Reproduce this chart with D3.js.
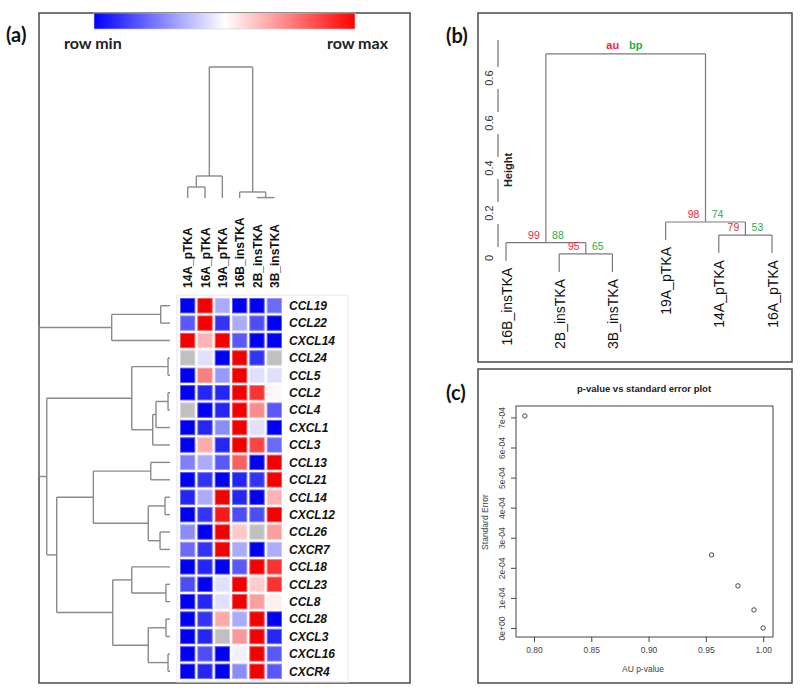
<!DOCTYPE html>
<html><head><meta charset="utf-8">
<script src="https://cdn.jsdelivr.net/npm/d3@7"></script>
<style>body{margin:0;background:#fff} svg{display:block}</style>
</head><body><svg id="c" width="800" height="694"></svg>
<script>
// ---------- DATA ----------
const genes = ["CCL19","CCL22","CXCL14","CCL24","CCL5","CCL2","CCL4","CXCL1","CCL3","CCL13","CCL21","CCL14","CXCL12","CCL26","CXCR7","CCL18","CCL23","CCL8","CCL28","CXCL3","CXCL16","CXCR4"];
const samples = ["14A_pTKA","16A_pTKA","19A_pTKA","16B_insTKA","2B_insTKA","3B_insTKA"];
// row-scaled expression (-1 = row min, 1 = row max, null = missing / grey)
const heatValues = [
  [-1, 1, -0.33, -1, -1, -0.58],
  [-0.65, 1, -0.8, -0.33, -0.7, -1],
  [1, 0.3, 1, -0.65, -1, -1],
  [null, -0.12, -1, 1, -0.8, null],
  [-1, 0.5, -0.4, 1, -0.12, -0.12],
  [-1, -0.85, -0.85, 1, 0.8, 0.03],
  [null, -1, -0.85, 1, 0.45, -0.65],
  [-1, -0.85, -0.45, 1, -0.12, -1],
  [-1, 0.33, -0.85, 1, 0.73, -0.58],
  [-0.5, -0.33, -0.65, 0.62, -1, 1],
  [-1, -0.8, -1, -0.85, -0.8, 1],
  [-0.85, -0.33, 1, -0.85, -1, 0.3],
  [-1, -0.8, 0.9, -0.7, -0.7, 1],
  [-0.45, -1, 1, 0.22, null, 0.38],
  [-0.58, -0.8, 1, -0.33, -1, -0.32],
  [-1, -0.85, -1, -0.65, 1, 0.8],
  [-0.7, -1, -0.12, 1, 0.2, 0.8],
  [-1, -0.85, -0.12, 1, 0.38, 0.06],
  [-1, -0.8, 0.33, -0.33, 1, -1],
  [-1, -0.85, null, 0.4, 1, -0.85],
  [-1, -0.7, -1, -0.06, 1, -0.65],
  [-1, -0.85, -1, -0.45, 1, -0.65]
];
// row dendrogram merges: [left, right, height]; "#k" = k-th merge
const rowMerges = [
  ["CCL24","CCL5",0.015], ["CCL2","CCL4",0.015], ["CXCL16","CXCR4",0.015],
  ["CCL23","CCL8",0.031], ["CCL28","CXCL3",0.031], ["CCL14","CXCL12",0.038],
  ["CCL19","CCL22",0.071], ["CCL26","CXCR7",0.076], ["#2","CXCL1",0.107],
  ["#9","CCL3",0.132], ["CCL13","CCL21",0.147], ["#6","#8",0.166],
  ["#5","#3",0.166], ["#1","#10",0.292], ["CCL18","#4",0.292],
  ["#15","#13",0.437], ["#7","CXCL14",0.445], ["#11","#12",0.585],
  ["#18","#16",0.865], ["#14","#19",0.941], ["#17","#20",1.0]
];
const colMerges = [
  ["2B_insTKA","3B_insTKA",0.003], ["16B_insTKA","#1",0.046],
  ["14A_pTKA","16A_pTKA",0.084], ["#3","19A_pTKA",0.168], ["#4","#2",1.0]
];
// panel (b) pvclust
const pvLeaves = ["16B_insTKA","2B_insTKA","3B_insTKA","19A_pTKA","14A_pTKA","16A_pTKA"];
const pvMerges = [
  ["2B_insTKA","3B_insTKA",0.018], ["16B_insTKA","#1",0.068],
  ["14A_pTKA","16A_pTKA",0.102], ["19A_pTKA","#3",0.16], ["#2","#4",0.907]
];
const pvAU = [95, 99, 79, 98, "au"];
const pvBP = [65, 88, 53, 74, "bp"];
const pvTicks = [0, 0.2, 0.4, 0.6, 0.8];
const pvTickLabels = ["0","0.2","0.4","0.6","0.6"];
const pvHang = 0.08;
// panel (c)
const auPvalue = [0.792, 0.955, 0.978, 0.992, 1.0];
const stdError = [7.05e-4, 2.43e-4, 1.40e-4, 0.60e-4, 0];
const cXTicks = [0.80, 0.85, 0.90, 0.95, 1.00];
const cYTicks = [0, 1e-4, 2e-4, 3e-4, 4e-4, 5e-4, 6e-4, 7e-4];

// ---------- DRAW ----------
const svg = d3.select("#c");
const FONT = "'Liberation Sans', Arial, sans-serif";
const LBL = "Lato, 'Open Sans', sans-serif";
const treeCol = "#8a8a8a";

// panel frames
const frame = (x,y,w,h) => svg.append("rect").attr("x",x).attr("y",y).attr("width",w).attr("height",h)
  .attr("fill","none").attr("stroke","#4a4a4a").attr("stroke-width",1.5);
frame(39,13,371,670); frame(478,13,314,349); frame(478,369,314,314);
const plabel = (t,x,y) => svg.append("text").attr("x",x).attr("y",y).text(t)
  .attr("font-family",LBL).attr("font-weight","bold").attr("font-size",20).attr("fill","#111");
plabel("(a)",6,42); plabel("(b)",446,43); plabel("(c)",446,400);

// colour bar
const defs = svg.append("defs");
const lg = defs.append("linearGradient").attr("id","gbar");
[["0%","#0000ff"],["50%","#ffffff"],["100%","#ff0000"]].forEach(([o,c])=>lg.append("stop").attr("offset",o).attr("stop-color",c));
svg.append("rect").attr("x",94).attr("y",13).attr("width",261).attr("height",16).attr("fill","url(#gbar)")
  .attr("stroke","#ccc").attr("stroke-width",0.6);
svg.append("text").attr("x",64).attr("y",49).text("row min").attr("font-family",LBL).attr("font-weight","bold").attr("font-size",16).attr("fill","#222");
svg.append("text").attr("x",388).attr("y",49).attr("text-anchor","end").text("row max").attr("font-family",LBL).attr("font-weight","bold").attr("font-size",16).attr("fill","#222");

// heatmap
const xH = d3.scaleBand().domain(samples).range([179,283]);
const yH = d3.scaleBand().domain(genes).range([297,680]);
const color = d3.scaleLinear().domain([-1,0,1]).range(["#0000f2","#ffffff","#f50000"]);
svg.append("rect").attr("x",177).attr("y",295).attr("width",171).attr("height",387).attr("fill","none").attr("stroke","#e6e6ee").attr("stroke-width",1);
const cells = [];
heatValues.forEach((row,i)=>row.forEach((v,j)=>cells.push({g:genes[i],s:samples[j],v})));
svg.append("g").selectAll("rect").data(cells).join("rect")
  .attr("x",d=>xH(d.s)+1.5).attr("y",d=>yH(d.g)+1.5)
  .attr("width",xH.bandwidth()-3).attr("height",yH.bandwidth()-3)
  .attr("fill",d=>d.v===null?"#c0c0c0":color(d.v))
  .attr("stroke",d=>d3.interpolateRgb(d.v===null?"#c0c0c0":color(d.v),"#ffffff")(0.35))
  .attr("stroke-width",1);
svg.append("g").selectAll("text").data(genes).join("text")
  .attr("x",289).attr("y",d=>yH(d)+yH.bandwidth()/2).attr("dy","0.36em").text(d=>d)
  .attr("font-family",FONT).attr("font-weight","bold").attr("font-style","italic").attr("font-size",12).attr("fill","#111");
svg.append("g").selectAll("text").data(samples).join("text")
  .attr("transform",d=>`translate(${xH(d)+xH.bandwidth()/2+4.5},288) rotate(-90)`).text(d=>d)
  .attr("font-family",FONT).attr("font-weight","bold").attr("font-size",12).attr("fill","#111");

function buildTree(merges, leafPos){
  const nodes=[];
  const get = k => k.startsWith("#") ? nodes[+k.slice(1)-1] : {pos:leafPos(k), h:0, leaf:k};
  merges.forEach(([a,b,h],i)=>{const A=get(a),B=get(b);nodes.push({pos:(A.pos+B.pos)/2,h,kids:[A,B],i});});
  return nodes;
}
// row dendrogram
const hRow = d3.scaleLinear().domain([0,1]).range([170,39]);
const rowNodes = buildTree(rowMerges, g=>yH(g)+yH.bandwidth()/2);
const gR = svg.append("g").attr("stroke",treeCol).attr("stroke-width",1.4).attr("fill","none");
rowNodes.forEach(n=>{
  const x=hRow(n.h);
  gR.append("line").attr("x1",x).attr("x2",x).attr("y1",n.kids[0].pos).attr("y2",n.kids[1].pos);
  n.kids.forEach(k=>gR.append("line").attr("x1",x).attr("x2",hRow(k.h)).attr("y1",k.pos).attr("y2",k.pos));
});
// column dendrogram
const hCol = d3.scaleLinear().domain([0,1]).range([198,67]);
const colNodes = buildTree(colMerges, s=>xH(s)+xH.bandwidth()/2);
const gC = svg.append("g").attr("stroke",treeCol).attr("stroke-width",1.4).attr("fill","none");
colNodes.forEach(n=>{
  const y=hCol(n.h);
  gC.append("line").attr("y1",y).attr("y2",y).attr("x1",n.kids[0].pos).attr("x2",n.kids[1].pos);
  n.kids.forEach(k=>gC.append("line").attr("y1",y).attr("y2",hCol(k.h)).attr("x1",k.pos).attr("x2",k.pos));
});

// ---------- panel (b) ----------
const xB = d3.scalePoint().domain(pvLeaves).range([506,772]);
const yB = d3.scaleLinear().domain([0,0.8]).range([258,78]);
const pvNodes = buildTree(pvMerges, l=>xB(l));
const gB = svg.append("g").attr("stroke","#7a7a7a").attr("stroke-width",1.2).attr("fill","none");
pvNodes.forEach((n,i)=>{
  const y=yB(n.h);
  gB.append("line").attr("y1",y).attr("y2",y).attr("x1",n.kids[0].pos).attr("x2",n.kids[1].pos);
  n.kids.forEach(k=>{
    const yk = k.leaf ? yB(n.h-pvHang) : yB(k.h);
    gB.append("line").attr("y1",y).attr("y2",yk).attr("x1",k.pos).attr("x2",k.pos);
    if(k.leaf){
      svg.append("text").attr("transform",`translate(${k.pos+5.5},${yk+7}) rotate(-90)`).attr("text-anchor","end")
        .text(k.leaf).attr("font-family",FONT).attr("font-size",14).attr("fill","#111");
    }
  });
  const isRoot = i===pvNodes.length-1;
  const ty = isRoot ? y-5 : y-4;
  svg.append("text").attr("x",n.pos-(isRoot?13:12)).attr("y",ty).attr("text-anchor","middle").text(pvAU[i])
    .attr("font-family","'Liberation Sans Narrow', "+FONT).attr("font-size",isRoot?11:10.5).attr("font-weight",isRoot?"bold":"normal").attr("fill","#f0263c");
  svg.append("text").attr("x",n.pos+(isRoot?10:12)).attr("y",ty).attr("text-anchor","middle").text(pvBP[i])
    .attr("font-family","'Liberation Sans Narrow', "+FONT).attr("font-size",isRoot?11:10.5).attr("font-weight",isRoot?"bold":"normal").attr("fill","#1fae4a");
});
// broken axis
const gap=11, segs=[];
let prev=40;
pvTicks.slice().reverse().forEach(t=>{const y=yB(t); if(y-gap>prev) segs.push([prev,y-gap]); prev=y+gap;});
if(prev<243) segs.push([prev,243]);
svg.append("g").selectAll("line").data(segs).join("line").attr("x1",498).attr("x2",498)
  .attr("y1",d=>d[0]).attr("y2",d=>d[1]).attr("stroke","#555").attr("stroke-width",1);
svg.append("g").selectAll("text").data(pvTicks).join("text")
  .attr("transform",d=>`translate(493,${yB(d)}) rotate(-90)`).attr("text-anchor","middle")
  .text((d,i)=>pvTickLabels[i]).attr("font-family",FONT).attr("font-size",11).attr("fill","#333");
svg.append("text").attr("transform","translate(512,170) rotate(-90)").attr("text-anchor","middle").text("Height")
  .attr("font-family",FONT).attr("font-weight","bold").attr("font-size",11).attr("fill","#222");

// ---------- panel (c) ----------
const xC = d3.scaleLinear().domain([0.7843,1.0086]).range([516,773]);
const yC = d3.scaleLinear().domain([-0.3e-4,7.38e-4]).range([637,406]);
svg.append("rect").attr("x",516).attr("y",406).attr("width",257).attr("height",231).attr("fill","none").attr("stroke","#444").attr("stroke-width",1);
const ax = svg.append("g").attr("transform","translate(0,637)")
  .call(d3.axisBottom(xC).tickValues(cXTicks).tickFormat(d3.format(".2f")).tickSize(5).tickSizeOuter(0));
ax.select(".domain").remove();
ax.selectAll("line").attr("stroke","#444");
ax.selectAll("text").attr("font-family",FONT).attr("font-size",8.5).attr("fill","#444").attr("dy","0.95em");
const ay = svg.append("g").attr("transform","translate(516,0)")
  .call(d3.axisLeft(yC).tickValues(cYTicks).tickFormat(d=>d===0?"0e+00":`${Math.round(d*1e4)}e-04`).tickSize(5).tickSizeOuter(0));
ay.select(".domain").remove();
ay.selectAll("line").attr("stroke","#444");
ay.selectAll("text").attr("font-family",FONT).attr("font-size",8.5).attr("fill","#444")
  .attr("text-anchor","middle").attr("transform","rotate(-90)").attr("x",0).attr("dy",0)
  .each(function(){ d3.select(this).attr("y",-11); });
// reposition rotated y labels: in rotated frame, move left by y
ay.selectAll(".tick text").attr("transform","translate(-11,0) rotate(-90)").attr("y",0);
svg.append("g").selectAll("circle").data(auPvalue).join("circle")
  .attr("cx",d=>xC(d)).attr("cy",(d,i)=>yC(stdError[i])).attr("r",2.2)
  .attr("fill","none").attr("stroke","#333").attr("stroke-width",0.9);
svg.append("text").attr("x",644).attr("y",392).attr("text-anchor","middle").text("p-value vs standard error plot")
  .attr("font-family",FONT).attr("font-weight","bold").attr("font-size",9.5).attr("fill","#222");
svg.append("text").attr("x",643).attr("y",672).attr("text-anchor","middle").text("AU p-value")
  .attr("font-family",FONT).attr("font-size",8.5).attr("fill","#444");
svg.append("text").attr("transform","translate(488,522) rotate(-90)").attr("text-anchor","middle").text("Standard Error")
  .attr("font-family",FONT).attr("font-size",8.5).attr("fill","#444");
</script></body></html>
